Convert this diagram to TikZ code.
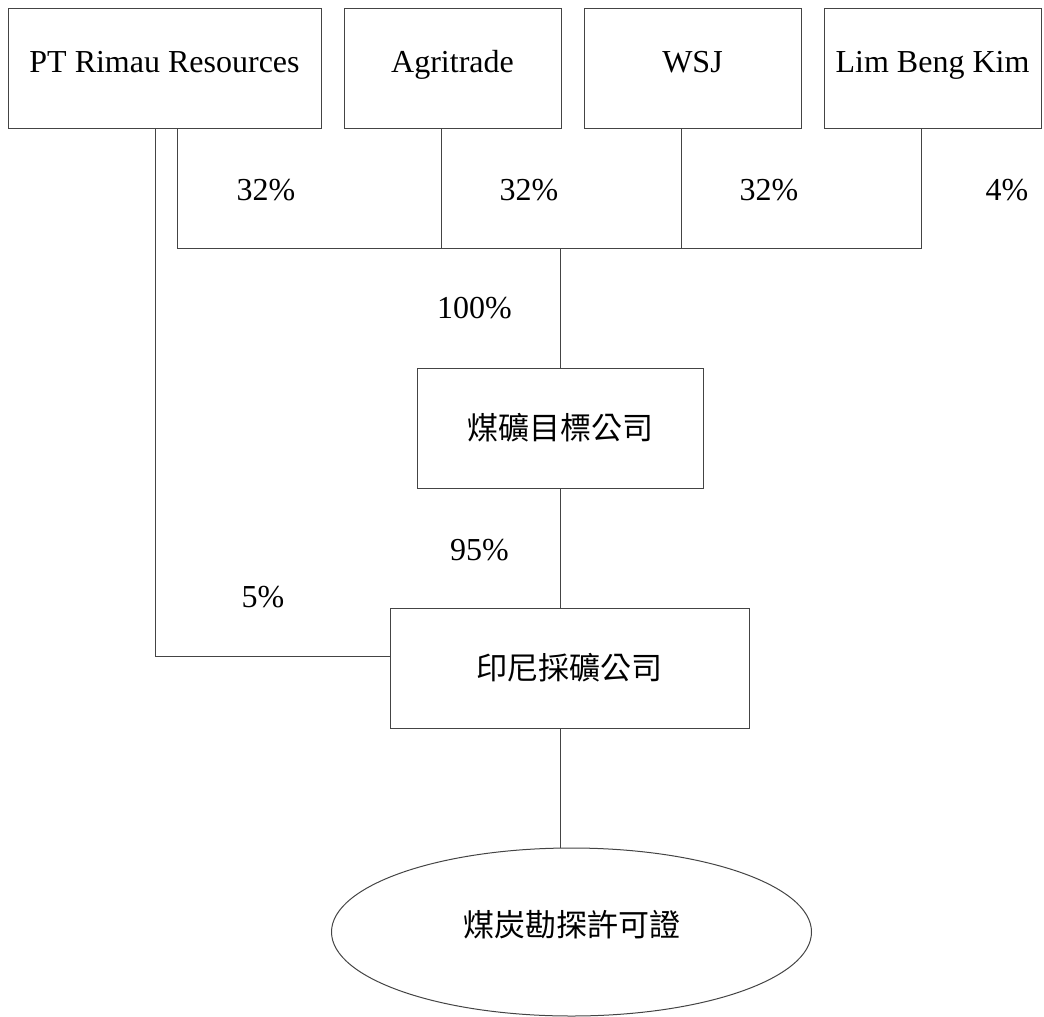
\documentclass[tikz,border=0pt]{standalone}
\usepackage{fontspec}
\setmainfont{Liberation Serif}
\newfontfamily\cjk{Noto Sans CJK TC}
\usetikzlibrary{shapes.geometric}
\definecolor{rule}{HTML}{444444}

\begin{document}
\begin{tikzpicture}[x=1pt, y=-1pt,
    every node/.style={font=\fontsize{32}{36}\selectfont, inner sep=0pt},
    owner/.style={draw=rule, line width=1pt, minimum height=120pt, text height=22pt, text depth=14pt},
    firm/.style={draw=rule, line width=1pt, minimum height=120pt, font=\fontsize{31}{36}\selectfont\cjk},
    permit/.style={draw=rule, line width=1pt, ellipse, minimum width=480pt, minimum height=168pt, text height=26pt, text depth=18pt, font=\fontsize{31}{36}\selectfont\cjk},
    link/.style={draw=rule, line width=1pt}]
    \useasboundingbox (0,0) rectangle (1044,1017);

    % Shareholders
    \node[owner, minimum width=313pt] (rimau) at (164.5,68) {PT Rimau Resources};
    \node[owner, minimum width=217pt] (agri) at (452.5,68) {Agritrade};
    \node[owner, minimum width=217pt] (wsj) at (692.5,68) {WSJ};
    \node[owner, minimum width=217pt] (lim) at (932.5,68) {Lim Beng Kim};

    % Companies and permit
    \node[firm, minimum width=286pt] (target) at (560,428) {煤礦目標公司};
    \node[firm, minimum width=359pt] (mining) at (569.5,668) {印尼採礦公司};
    \node[permit] (licence) at (571.5,932) {煤炭勘探許可證};

    % Joints on the bar
    \coordinate (barL) at (177,248);
    \coordinate (barA) at (441,248);
    \coordinate (barW) at (681,248);
    \coordinate (barR) at (921,248);
    \coordinate (barM) at (560,248);
    \coordinate (minorP) at (155,656);

    % Ownership lines
    \draw[link] (rimau.south -| barL) -- (barL) -- (barR) -- (lim.south -| barR);
    \draw[link] (agri.south -| barA) -- (barA);
    \draw[link] (wsj.south -| barW) -- (barW);
    \draw[link] (barM) -- (target);
    \draw[link] (target.south) -- (mining.north -| target.south);
    \draw[link] (mining.south -| target.south) -- (licence.north -| target.south);
    \draw[link] (rimau.south -| minorP) -- (minorP) -- (mining.west |- minorP);

    % Percentages
    \node (pctRimau) at (266,190) {32\%};
    \node (pctAgri) at (529,190) {32\%};
    \node (pctWsj) at (769,190) {32\%};
    \node (pctLim) at (1007,190) {4\%};
    \node (pctTarget) at (474.5,308) {100\%};
    \node (pctMining) at (479.5,550) {95\%};
    \node (pctMinor) at (263,597) {5\%};
\end{tikzpicture}
\end{document}
